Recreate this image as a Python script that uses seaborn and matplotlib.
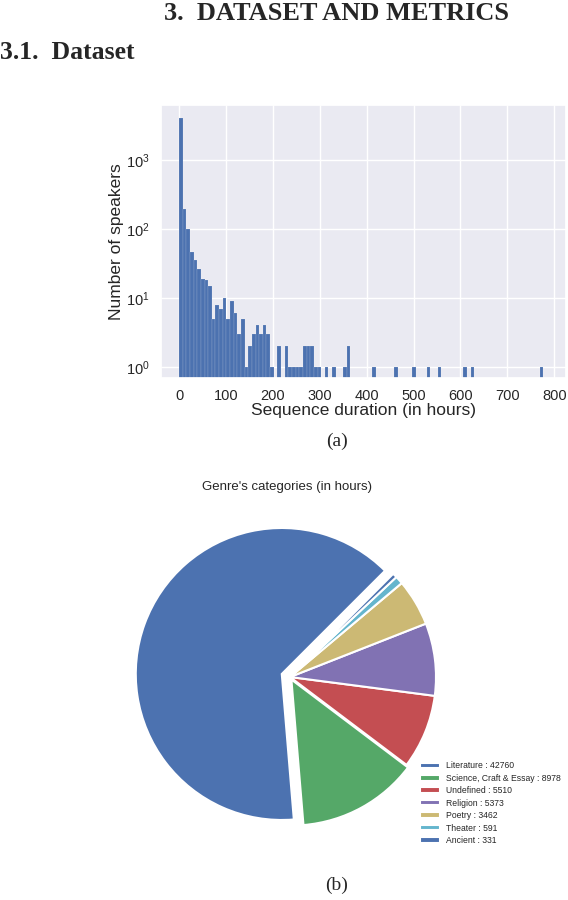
import matplotlib
matplotlib.use("Agg")
import matplotlib.pyplot as plt
import numpy as np
import seaborn as sns

# histogram: speaker counts per duration bin (100 bins over 0..777 h)
max_hours = 777
speaker_counts = [
    4100, 195, 100, 46, 36, 26, 19, 18, 15, 5,
    8, 7, 10, 5, 9, 6, 3, 5, 1, 2,
    3, 4, 3, 4, 3, 1, 0, 2, 0, 2,
    1, 1, 1, 1, 2, 2, 2, 1, 1, 0,
    1, 0, 1, 0, 0, 1, 2, 0, 0, 0,
    0, 0, 0, 1, 0, 0, 0, 0, 0, 1,
    0, 0, 0, 0, 1, 0, 0, 0, 1, 0,
    0, 1, 0, 0, 0, 0, 0, 0, 1, 0,
    1, 0, 0, 0, 0, 0, 0, 0, 0, 0,
    0, 0, 0, 0, 0, 0, 0, 0, 0, 1,
]
x_ticks = [0, 100, 200, 300, 400, 500, 600, 700, 800]

# pie: hours per genre
genres = ["Literature", "Science, Craft & Essay", "Undefined", "Religion", "Poetry", "Theater", "Ancient"]
genre_hours = [42760, 8978, 5510, 5373, 3462, 591, 331]

sns.set_theme(style="darkgrid", palette="deep")
plt.rcParams.update({
    "font.family": ["Liberation Sans", "DejaVu Sans"],
    "mathtext.default": "regular",
    "axes.labelcolor": "#262626",
    "xtick.color": "#262626",
    "ytick.color": "#262626",
})
SERIF = ["Liberation Serif", "DejaVu Serif"]
W, H = 568, 900

fig = plt.figure(figsize=(W / 100, H / 100), dpi=100)

fig.text(336 / W, 1 - 19.5 / H, "3.  DATASET AND METRICS", family=SERIF, weight="bold",
         fontsize=19, ha="center", va="baseline")
fig.text(0 / W, 1 - 59 / H, "3.1.  Dataset", family=SERIF, weight="bold",
         fontsize=18.5, ha="left", va="baseline")

# (a) histogram
ax = fig.add_axes([161 / W, 1 - 378 / H, 405 / W, 273 / H])
n_bins = len(speaker_counts)
bin_w = max_hours / n_bins
centers = np.arange(n_bins) * bin_w + bin_w / 2
sns.histplot(x=centers, weights=speaker_counts, bins=n_bins, binrange=(0, max_hours),
             color="#4C72B0", alpha=1, edgecolor=(1, 1, 1, 0.3), linewidth=0.3, ax=ax)
ax.set_yscale("log")
ax.set_ylim(0.686, 6400)
ax.set_xlim(-38.4, 825)
ax.set_xticks(x_ticks)
ax.tick_params(labelsize=10.5, pad=2)
ax.minorticks_off()
ax.set_xlabel("Sequence duration (in hours)", fontsize=12.5, labelpad=0)
ax.set_ylabel("Number of speakers", fontsize=12.5, labelpad=1.5)
ax.grid(True, color="white", linewidth=1)
fig.text(337 / W, 1 - 441 / H, "(a)", family=SERIF, fontsize=14, ha="center", va="center")

# (b) pie
R = 146
L = 1.2
pax = fig.add_axes([(290 - L * R) / W, (H - 677 - L * R) / H, 2 * L * R / W, 2 * L * R / H])
colors = sns.color_palette("deep6")
pie_colors = [colors[i % 6] for i in range(len(genres))]
wedges, _ = pax.pie(genre_hours, colors=pie_colors, startangle=45,
                    explode=[0.06, 0.02, 0, 0, 0, 0, 0],
                    wedgeprops={"edgecolor": "white", "linewidth": 1.5})
pax.set_xlim(-L, L)
pax.set_ylim(-L, L)
pax.set_aspect("equal")
pax.axis("off")
fig.text(287 / W, 1 - 487 / H, "Genre's categories (in hours)", fontsize=9.5,
         color="#262626", ha="center", va="center")
labels = [f"{g} : {h}" for g, h in zip(genres, genre_hours)]
fig.legend(wedges, labels, loc="upper left", bbox_to_anchor=(416 / W, 1 - 757 / H),
           frameon=False, fontsize=6.25, handlelength=2.3, handleheight=0.6,
           handletextpad=0.7, labelspacing=0.4, borderpad=0)
fig.text(337 / W, 1 - 885 / H, "(b)", family=SERIF, fontsize=14, ha="center", va="center")

fig.savefig("out.png", dpi=100)
